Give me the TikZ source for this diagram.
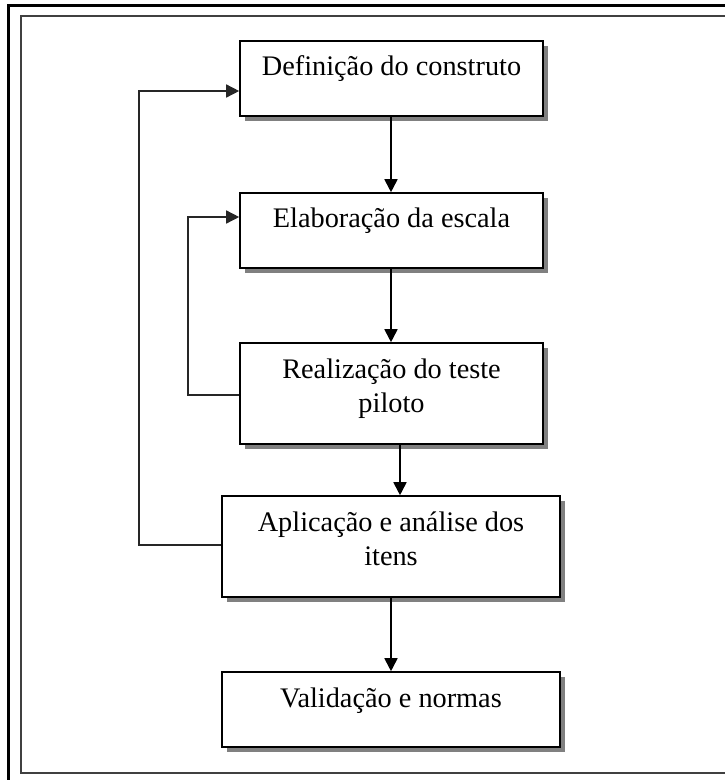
\documentclass[tikz,border=0pt]{standalone}
\usepackage{fontspec}
\setmainfont{Liberation Serif}
\usetikzlibrary{arrows.meta}
\begin{document}
\begin{tikzpicture}[x=1pt,y=-1pt,
  stepbox/.style={draw=black, line width=1.6pt, fill=white, inner sep=0pt,
    minimum height=75pt},
  tallbox/.style={stepbox, minimum height=101pt},
  lbl/.style={font=\fontsize{28.3pt}{34pt}\selectfont, align=center, inner sep=0pt},
  shade/.style={fill=black!50},
  flow/.style={line width=1.8pt, -{Triangle[length=13pt,width=13pt]}},
  back/.style={line width=1.5pt, draw=black!85, -{Triangle[length=13pt,width=13pt]}}]
\useasboundingbox (0,0) rectangle (725,780);
\clip (0,0) rectangle (725,780);
% double page frame
\draw[line width=2.2pt, black] (8.5,800) -- (8.5,5.5) -- (760,5.5);
\draw[line width=2pt, black!75] (20.5,15.5) rectangle (760,772.5);
% drop shadows
\fill[shade] (245,46) rectangle (548,121);
\fill[shade] (245,198) rectangle (548,273);
\fill[shade] (245,348) rectangle (548,449);
\fill[shade] (227,501) rectangle (565,602);
\fill[shade] (227,677) rectangle (565,752);
% step boxes
\node[stepbox, minimum width=303pt] (b1) at (391.5,78.5) {};
\node[stepbox, minimum width=303pt] (b2) at (391.5,230.5) {};
\node[tallbox, minimum width=303pt] (b3) at (391.5,393.5) {};
\node[tallbox, minimum width=338pt] (b4) at (391,546.5) {};
\node[stepbox, minimum width=338pt] (b5) at (391,709.5) {};
% labels
\node[lbl] (t1) at (391.5,69) {Definição do construto};
\node[lbl] (t2) at (391.5,221) {Elaboração da escala};
\node[lbl] (t3) at (391.5,389) {Realização do teste\\piloto};
\node[lbl] (t4) at (391,539) {Aplicação e análise dos\\itens};
\node[lbl] (t5) at (391,701) {Validação e normas};
% main flow
\draw[flow] (b1.south -| 391,0) -- (b2.north -| 391,0);
\draw[flow] (b2.south -| 391,0) -- (b3.north -| 391,0);
\draw[flow] (b3.south -| 400,0) -- (b4.north -| 400,0);
\draw[flow] (b4.south -| 391,0) -- (b5.north -| 391,0);
% feedback loops
\coordinate (k1) at (188,395);
\coordinate (k2) at (139,545);
\draw[back] (b3.west |- k1) -- (k1) |- (b2.west |- 0,217);
\draw[back] (b4.west |- k2) -- (k2) |- (b1.west |- 0,91);
\end{tikzpicture}
\end{document}
